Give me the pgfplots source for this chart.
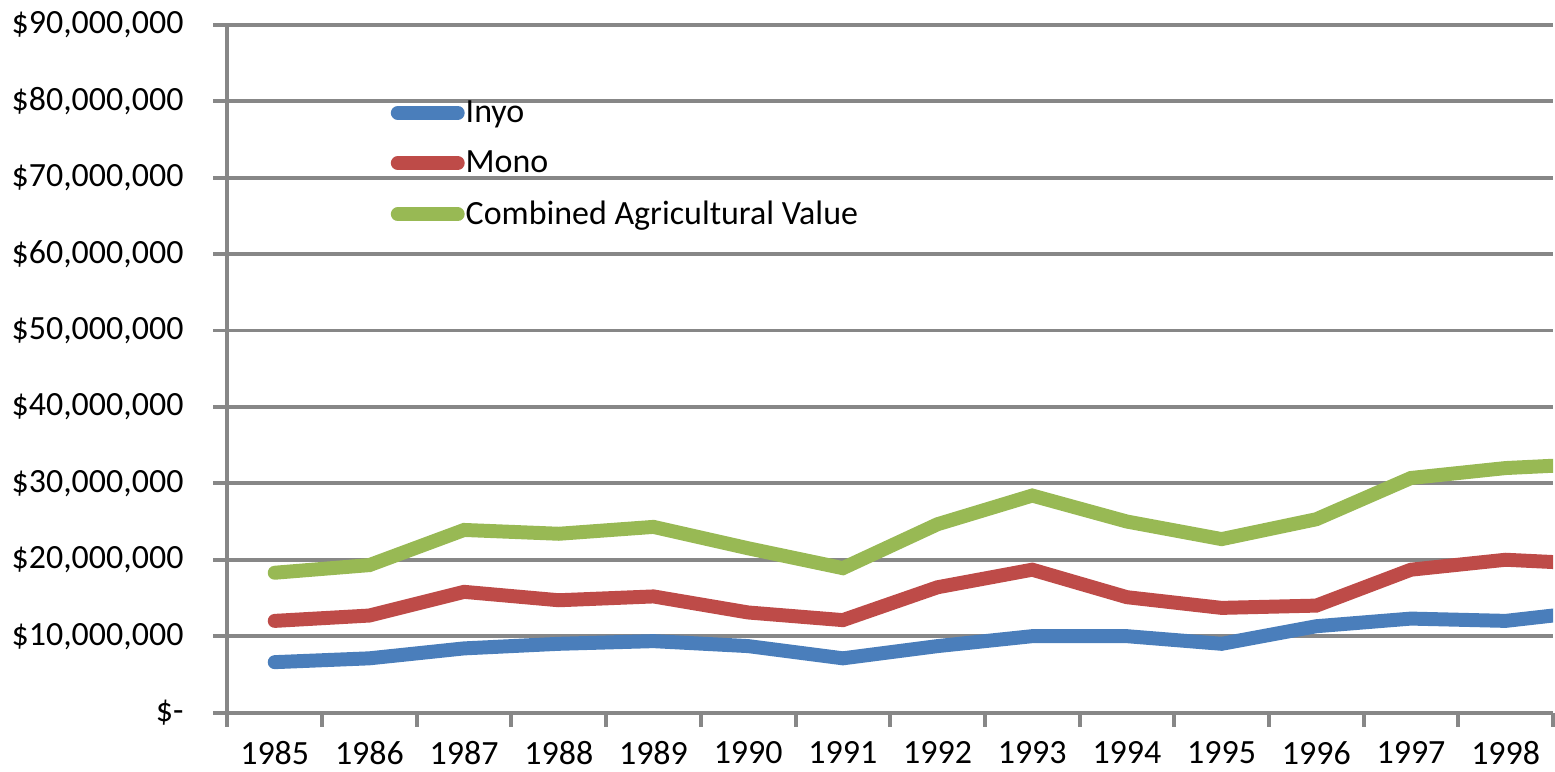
\documentclass[border=0pt]{standalone}
\usepackage{fontspec}
\setmainfont{Carlito}
\usepackage{pgfplots}
\pgfplotsset{compat=1.18}
\usepackage{pgfplotstable}
\definecolor{inyoblue}{HTML}{4A7EBB}
\definecolor{monored}{HTML}{BE4B48}
\definecolor{combgreen}{HTML}{98B954}
\definecolor{gridgray}{HTML}{878787}

% county agricultural value, dollars; 1999 only shows at the cropped right edge
\pgfplotstableread{
idx year inyo     mono     combined
0   1985 6600000  12000000 18300000
1   1986 7100000  12700000 19300000
2   1987 8400000  15800000 23900000
3   1988 9000000  14700000 23400000
4   1989 9350000  15200000 24300000
5   1990 8700000  13100000 21500000
6   1991 7100000  12100000 18900000
7   1992 8700000  16400000 24650000
8   1993 10000000 18700000 28400000
9   1994 10000000 15100000 25000000
10  1995 9000000  13700000 22700000
11  1996 11300000 14000000 25300000
12  1997 12300000 18700000 30700000
13  1998 12000000 20000000 32000000
14  1999 13400000 19400000 32600000
}\agdata

\begin{document}
\begin{tikzpicture}
\begin{axis}[
    scale only axis,
    width=664pt, height=344.5pt,
    xmin=-0.5, xmax=13.5,
    ymin=0, ymax=90000000,
    axis lines*=left,
    axis line style={gridgray, line width=2pt},
    tick align=outside,
    major tick length=7pt,
    minor tick length=7pt,
    tick style={gridgray, line width=2pt},
    xtick={0,1,2,3,4,5,6,7,8,9,10,11,12,13},
    xticklabels={1985,1986,1987,1988,1989,1990,1991,1992,1993,1994,1995,1996,1997,1998},
    major x tick style={draw=none},
    minor xtick={-0.5,0.5,1.5,2.5,3.5,4.5,5.5,6.5,7.5,8.5,9.5,10.5,11.5,12.5,13.5},
    ytick={0,10000000,20000000,30000000,40000000,50000000,60000000,70000000,80000000,90000000},
    yticklabels={{\$-},{\$10,000,000},{\$20,000,000},{\$30,000,000},{\$40,000,000},
                 {\$50,000,000},{\$60,000,000},{\$70,000,000},{\$80,000,000},{\$90,000,000}},
    scaled y ticks=false,
    ymajorgrids,
    major grid style={gridgray, line width=2pt},
    tick label style={font=\fontsize{17}{20}\selectfont},
    yticklabel style={xshift=-11.5pt},
    xticklabel style={yshift=-4pt},
    legend style={at={(rel axis cs:0.123,0.892)}, anchor=north west,
                  draw=none, fill=none, font=\fontsize{17}{20}\selectfont,
                  row sep=11.75pt, column sep=0pt, inner sep=0pt,
                  nodes={inner sep=0.5pt}},
    legend cell align=left,
    legend image code/.code={\draw[#1, line width=7pt, line cap=round] (0pt,0pt) -- (30pt,0pt);},
]
  \addplot[inyoblue, line width=7pt, line cap=round] table[x=idx, y=inyo] {\agdata};
  \addplot[monored, line width=7pt, line cap=round] table[x=idx, y=mono] {\agdata};
  \addplot[combgreen, line width=7pt, line cap=round] table[x=idx, y=combined] {\agdata};
  \legend{Inyo, Mono, Combined Agricultural Value}
\end{axis}
% white margin above and left of the tick labels, as in the original
\path ([xshift=-2.5pt, yshift=2.5pt]current bounding box.north west);
\end{tikzpicture}
\end{document}
